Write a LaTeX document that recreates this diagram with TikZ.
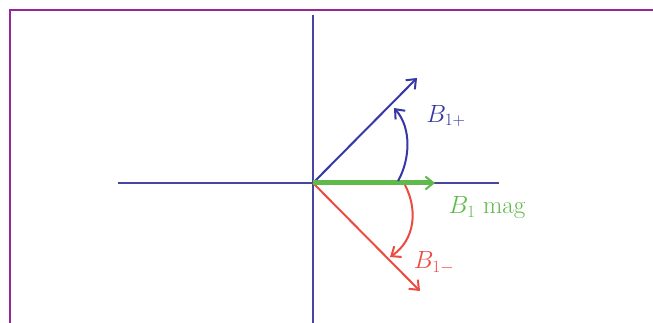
\documentclass[tikz,border=0pt]{standalone}
\usepackage{xcolor}
\usepackage{tikz}
\usetikzlibrary{arrows.meta}

\definecolor{framepurple}{RGB}{150,40,150}
\definecolor{axisblue}{RGB}{70,70,160}
\definecolor{plusblue}{RGB}{55,55,165}
\definecolor{maggreen}{RGB}{95,185,75}
\definecolor{minusred}{RGB}{235,75,65}

\begin{document}
\begin{tikzpicture}[x=1pt,y=-1pt,
    vec/.style={-{Straight Barb[length=8pt,width=13pt,line width=2pt]},line width=2pt},
    lbl/.style={font=\fontsize{25}{30}\selectfont,inner sep=0pt}]
    \useasboundingbox (0,0) rectangle (653,323);
    \fill[white] (0,0) rectangle (653,323);

    \draw[framepurple,line width=1.5pt] (10,323) -- (10,10) -- (653,10);

    \coordinate (o) at (313,183);
    \coordinate (xl) at (118,183);
    \coordinate (xr) at (499,183);
    \coordinate (yt) at (313,15);
    \coordinate (yb) at (313,323);

    \coordinate (bp) at (417,78);
    \coordinate (bm) at (435,183);
    \coordinate (bn) at (420,291);

    \draw[axisblue,line width=2.8pt] (xl)--(xr);
    \draw[axisblue,line width=2.8pt] (yt)--(yb);

    \draw[vec,plusblue] (o)--(bp);
    \draw[vec,minusred] (o)--(bn);
    \draw[vec,maggreen,line width=5pt] (o)--(bm);

    \coordinate (ap) at (398,181);
    \coordinate (aq) at (394,108);
    \draw[vec,plusblue] (ap) .. controls (410,160) and (412,128) .. (aq);

    \coordinate (ar) at (405,185);
    \coordinate (as) at (390,257);
    \draw[vec,minusred] (ar) .. controls (418,210) and (415,240) .. (as);

    \node[lbl,text=plusblue] (lp) at (446,116) {$B_{1+}$};
    \node[lbl,text=maggreen] (lm) at (487,208) {$B_1$ mag};
    \node[lbl,text=minusred] (ln) at (434,263) {$B_{1-}$};
\end{tikzpicture}
\end{document}
